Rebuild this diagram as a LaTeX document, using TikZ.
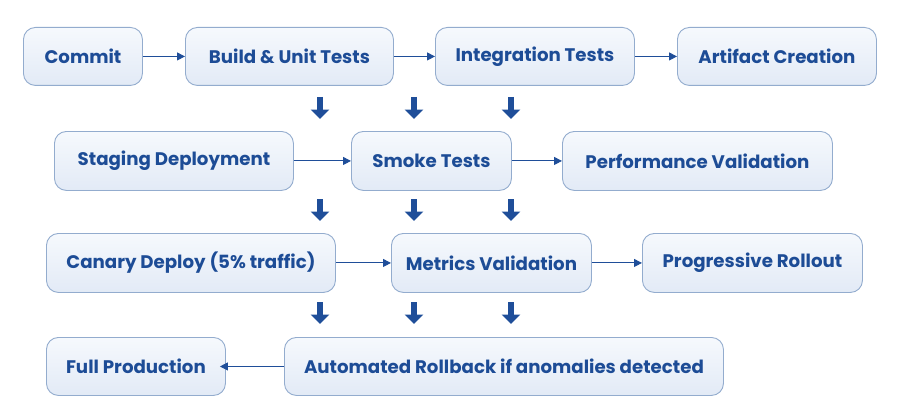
\documentclass[tikz,border=0pt]{standalone}
\usepackage{fontspec}
\setmainfont{Poppins}
\usetikzlibrary{arrows.meta}
\definecolor{txt}{HTML}{1D4C96}
\definecolor{bord}{HTML}{93ACCE}
\definecolor{ftop}{HTML}{F6F9FD}
\definecolor{fbot}{HTML}{E2EAF6}
\definecolor{arr}{HTML}{1F4E99}
\tikzset{
  box/.style={draw=bord, line width=0.9pt, rounded corners=12pt, top color=ftop, bottom color=fbot,
    text=txt, font=\fontsize{18.2}{20}\selectfont\bfseries, inner sep=0pt, anchor=north west},
  flow/.style={draw=arr, line width=1pt, -{Triangle[width=8pt,length=8pt]}},
  down/.style={draw=arr, line width=5.5pt, -{Triangle[width=18pt,length=9.5pt]}}
}
\begin{document}
\begin{tikzpicture}[x=1pt,y=-1pt]
\useasboundingbox (0,0) rectangle (900,420);
% row 1
\node[box, minimum width=119pt, minimum height=58pt] (commit) at (23,27) {Commit};
\node[box, minimum width=208pt, minimum height=58pt] (build) at (185,27) {Build \& Unit Tests};
\node[box, minimum width=199pt, minimum height=58pt] (integ) at (435,27) {Integration Tests};
\node[box, minimum width=199pt, minimum height=58pt] (artif) at (677,27) {Artifact Creation};
% row 2
\node[box, minimum width=239pt, minimum height=59pt] (stag) at (54,131) {Staging Deployment};
\node[box, minimum width=160pt, minimum height=59pt] (smoke) at (351,131) {Smoke Tests};
\node[box, minimum width=270pt, minimum height=59pt] (perf) at (562,131) {Performance Validation};
% row 3
\node[box, minimum width=289pt, minimum height=59pt] (canary) at (46,233) {Canary Deploy (5\% traffic)};
\node[box, minimum width=200pt, minimum height=59pt] (metric) at (391,233) {Metrics Validation};
\node[box, minimum width=220pt, minimum height=59pt] (prog) at (642,233) {Progressive Rollout};
% row 4
\node[box, minimum width=179pt, minimum height=58pt] (full) at (46,337) {Full Production};
\node[box, minimum width=439pt, minimum height=58pt] (rollb) at (284,337) {Automated Rollback if anomalies detected};
% flows
\draw[flow] (commit) -- (build);
\draw[flow] (build) -- (integ);
\draw[flow] (integ) -- (artif);
\draw[flow] (stag) -- (smoke);
\draw[flow] (smoke) -- (perf);
\draw[flow] (canary) -- (metric);
\draw[flow] (metric) -- (prog);
\draw[flow] (rollb.west) -- ([xshift=-6pt]full.east);
% down arrows
\foreach \y in {97,199,302}{
  \foreach \x in {320,414,511}{
    \draw[down] (\x,\y) -- (\x,\y+22);
  }
}
\end{tikzpicture}
\end{document}
